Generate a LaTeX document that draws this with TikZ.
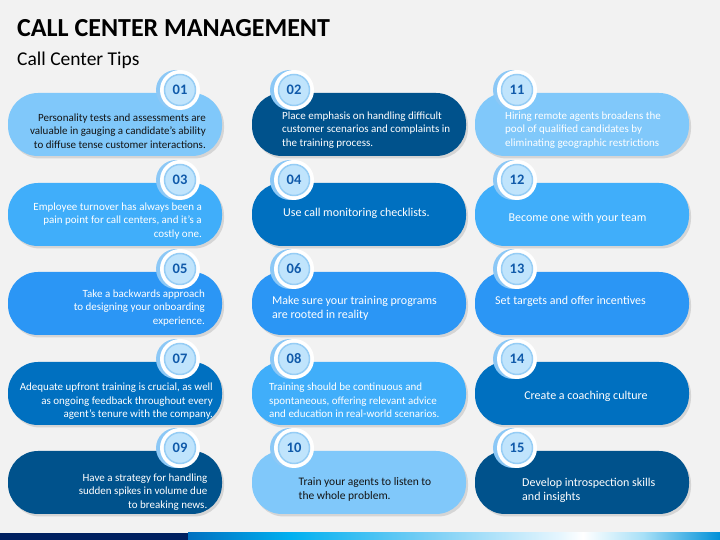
\documentclass[tikz,border=0pt]{standalone}
\usepackage{fontspec}
\setmainfont{Carlito}
\usetikzlibrary{shadows}
\definecolor{bggray}{RGB}{242,242,242}
\definecolor{tiplight}{RGB}{128,200,250}
\definecolor{tipnavy}{RGB}{0,82,140}
\definecolor{tipmid}{RGB}{0,112,192}
\definecolor{tipsky}{RGB}{64,174,250}
\definecolor{tipbright}{RGB}{43,150,245}
\definecolor{tipdark}{RGB}{20,20,20}
\definecolor{badgein}{RGB}{192,228,252}
\definecolor{badgering}{RGB}{150,205,245}
\definecolor{badgeedge}{RGB}{140,200,246}
\definecolor{badgetext}{RGB}{16,90,170}
\definecolor{barnavy}{RGB}{0,32,96}
\begin{document}
\begin{tikzpicture}[x=1pt, y=1pt,
    tippill/.style={rounded corners=30pt, minimum width=214pt, minimum height=63pt,
      drop shadow={shadow xshift=2pt, shadow yshift=-2.5pt, opacity=0.25}},
    tipbadge/.style={circle, fill=badgein, draw=badgering, line width=1.5pt, minimum size=31pt,
      inner sep=0pt, text=badgetext, font=\bfseries\fontsize{14.5}{14.5}\selectfont},
    tiptext/.style={font=\fontsize{11}{13.5}\selectfont, text=white, inner sep=0pt},
    tipbig/.style={font=\fontsize{12}{14}\selectfont}]
  \fill[bggray] (0,0) rectangle (720,540);
  \useasboundingbox (0,0) rectangle (720,540);
  % title
  \node[anchor=base west, inner sep=0pt, font=\bfseries\fontsize{26}{26}\selectfont] (title) at (17,503) {CALL CENTER MANAGEMENT};
  \node[anchor=base west, inner sep=0pt, font=\fontsize{19.5}{19.5}\selectfont] (subtitle) at (17,474) {Call Center Tips};
  % pills and number badges
  \foreach \id/\cx/\cy/\col/\bx in {01/115/415.5/tiplight/180, 02/359/415.5/tipnavy/294, 11/582/415.5/tiplight/517,
      03/115/325.5/tipsky/180, 04/359/325.5/tipmid/294, 12/582/325.5/tipsky/517,
      05/115/236.5/tipbright/180, 06/359/236.5/tipbright/294, 13/582/236.5/tipbright/517,
      07/115/146.5/tipmid/180, 08/359/146.5/tipsky/294, 14/582/146.5/tipmid/517,
      09/115/57.5/tipnavy/180, 10/359/57.5/tiplight/294, 15/582/57.5/tipnavy/517}{
    \node[tippill, fill=\col] (p\id) at (\cx,\cy) {};
    \fill[badgeedge] (\bx-4,\cy+34.5) circle (20pt);
    \fill[white] (\bx,\cy+34.5) circle (20pt);
    \node[tipbadge] (b\id) at (\bx,\cy+34.5) {\id};
  }
  % tip texts
  \node[tiptext, anchor=east, align=right, text=tipdark] (t01) at (206,409) {Personality tests and assessments are\\valuable in gauging a candidate’s ability\\to diffuse tense customer interactions.};
  \node[tiptext, anchor=west, align=left] (t02) at (282,410) {Place emphasis on handling difficult\\customer scenarios and complaints in\\the training process.};
  \node[tiptext, anchor=west, align=left] (t11) at (505,410) {Hiring remote agents broadens the\\pool of qualified candidates by\\eliminating geographic restrictions};
  \node[tiptext, anchor=east, align=right] (t03) at (202,319) {Employee turnover has always been a\\pain point for call centers, and it’s a\\costly one.};
  \node[tiptext, tipbig, anchor=west] (t04) at (283,327) {Use call monitoring checklists.};
  \node[tiptext, tipbig] (t12) at (577.5,322) {Become one with your team};
  \node[tiptext, anchor=east, align=right] (t05) at (205,232) {Take a backwards approach\\to designing your onboarding\\experience.};
  \node[tiptext, tipbig, anchor=west, align=left] (t06) at (272,232) {Make sure your training programs\\are rooted in reality};
  \node[tiptext, tipbig, anchor=west] (t13) at (495,239) {Set targets and offer incentives};
  \node[tiptext, anchor=east, align=right] (t07) at (213,138.5) {Adequate upfront training is crucial, as well\\as ongoing feedback throughout every\\agent’s tenure with the company.};
  \node[tiptext, anchor=west, align=left] (t08) at (269,139.5) {Training should be continuous and\\spontaneous, offering relevant advice\\and education in real-world scenarios.};
  \node[tiptext, tipbig] (t14) at (586,144) {Create a coaching culture};
  \node[tiptext, anchor=east, align=right] (t09) at (207.5,48) {Have a strategy for handling\\sudden spikes in volume due\\to breaking news.};
  \node[tiptext, anchor=west, align=left, text=tipdark, font=\fontsize{11.5}{13.5}\selectfont] (t10) at (298.5,50.5) {Train your agents to listen to\\the whole problem.};
  \node[tiptext, tipbig, anchor=west, align=left] (t15) at (522,50) {Develop introspection skills\\and insights};
  % bottom bar
  \fill[barnavy] (0,0) rectangle (188,7);
  \shade[left color={rgb,255:red,0;green,112;blue,192}, right color={rgb,255:red,0;green,176;blue,240}] (188,0) rectangle (290,7);
  \shade[left color={rgb,255:red,0;green,176;blue,240}, right color={rgb,255:red,122;green,207;blue,245}] (290,0) rectangle (430,7);
  \shade[left color={rgb,255:red,122;green,207;blue,245}, right color={rgb,255:red,230;green,246;blue,254}] (430,0) rectangle (560,7);
  \shade[left color={rgb,255:red,230;green,246;blue,254}, right color=white] (560,0) rectangle (583,7);
  \shade[left color=white, right color={rgb,255:red,168;green,224;blue,247}] (583,0) rectangle (643,7);
  \shade[left color={rgb,255:red,168;green,224;blue,247}, right color={rgb,255:red,0;green,144;blue,216}] (643,0) rectangle (720,7);
\end{tikzpicture}
\end{document}
